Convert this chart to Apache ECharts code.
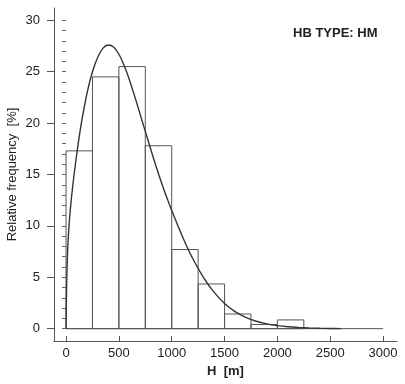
<!DOCTYPE html>
<html>
<head>
<meta charset="utf-8">
<script src="https://cdn.jsdelivr.net/npm/echarts@6/dist/echarts.min.js"></script>
<style>
  html, body { margin: 0; padding: 0; background: #fff; }
  #chart { width: 405px; height: 384px; }
</style>
</head>
<body>
<div id="chart"></div>
<script>
// histogram bins (start of each 250 m class) and their relative frequency [%]
var binStarts = [0, 250, 500, 750, 1000, 1250, 1500, 1750, 2000];
var binWidth = 250;
var binFreq = [17.3, 24.5, 25.5, 17.8, 7.7, 4.35, 1.43, 0.4, 0.85];

// fitted curve
var curveH = [0, 5, 15, 30, 50, 75, 100, 125, 150, 200, 250, 300, 350, 400, 450, 500, 550, 600, 650, 700,
  750, 800, 850, 900, 950, 1000, 1100, 1200, 1300, 1400, 1500, 1600, 1700, 1800, 1900, 2000,
  2100, 2200, 2300, 2400, 2500, 2600];
var curveF = [0, 4, 7.6, 10.3, 12.6, 14.9, 16.9, 18.7, 20.3, 23.0, 25.0, 26.4, 27.3, 27.6, 27.4, 26.7, 25.6, 24.2, 22.6, 20.9,
  19.2, 17.5, 15.85, 14.3, 12.85, 11.5, 9.0, 6.8, 5.0, 3.55, 2.45, 1.65, 1.1, 0.72, 0.47, 0.3,
  0.19, 0.12, 0.07, 0.04, 0.02, 0];

// zero line drawn under the histogram
var baseH = [0, 3000];
var baseF = [0, 0];

var xTicks = [0, 500, 1000, 1500, 2000, 2500, 3000];
var yTicks = [0, 5, 10, 15, 20, 25, 30];
var yMinorTicks = [];
for (var i = 0; i <= 30; i++) yMinorTicks.push(i);

var font = "'Liberation Sans', Arial, sans-serif";
var ink = '#222';

var chart = echarts.init(document.getElementById('chart'));

var option = {
  backgroundColor: '#fff',
  animation: false,
  title: {
    text: 'HB TYPE: HM',
    left: 288,
    top: 22,
    textStyle: { fontFamily: font, fontSize: 13, fontWeight: 'bold', color: ink }
  },
  grid: { left: 54, right: 8, top: 8, bottom: 43, outerBoundsMode: 'none' },
  xAxis: {
    type: 'value',
    min: -114,
    max: 3132,
    name: 'H  [m]',
    nameLocation: 'middle',
    nameGap: 24,
    nameTextStyle: { fontFamily: font, fontSize: 13, color: ink, fontWeight: 'bold' },
    axisLine: { show: true, onZero: false, lineStyle: { color: '#555', width: 1 } },
    axisTick: { show: true, inside: true, length: 5, customValues: xTicks, lineStyle: { color: '#555' } },
    axisLabel: {
      customValues: xTicks, margin: 6, fontFamily: font, fontSize: 13, color: ink,
      formatter: function (v) { return String(v); }
    },
    splitLine: { show: false }
  },
  yAxis: [
    {
      type: 'value',
      min: -1.2,
      max: 31.2,
      name: 'Relative frequency  [%]',
      nameLocation: 'middle',
      nameRotate: 90,
      nameGap: 35,
      nameMoveOverlap: false,
      nameTextStyle: { fontFamily: font, fontSize: 13, color: ink },
      axisLine: { show: true, onZero: false, lineStyle: { color: '#555', width: 1 } },
      axisTick: { show: true, length: 7, customValues: yTicks, lineStyle: { color: '#555' } },
      axisLabel: { customValues: yTicks, margin: 14, fontFamily: font, fontSize: 13, color: ink },
      splitLine: { show: false }
    },
    {
      type: 'value',
      min: -1.2,
      max: 31.2,
      position: 'left',
      axisLine: { show: false },
      axisTick: { show: true, length: 4, customValues: yMinorTicks, lineStyle: { color: '#666' } },
      axisLabel: { show: false },
      splitLine: { show: false }
    }
  ],
  series: [
    {
      type: 'line',
      data: baseH.map(function (h, i) { return [h, baseF[i]]; }),
      symbol: 'none',
      lineStyle: { color: '#555', width: 1 },
      silent: true
    },
    {
      type: 'custom',
      data: binStarts.map(function (s, i) { return [s, s + binWidth, binFreq[i]]; }),
      renderItem: function (params, api) {
        var p0 = api.coord([api.value(0), 0]);
        var p1 = api.coord([api.value(1), api.value(2)]);
        return {
          type: 'rect',
          shape: { x: p0[0], y: p1[1], width: p1[0] - p0[0], height: p0[1] - p1[1] },
          style: { fill: 'none', stroke: '#555', lineWidth: 1 }
        };
      },
      silent: true
    },
    {
      type: 'line',
      data: curveH.map(function (h, i) { return [h, curveF[i]]; }),
      symbol: 'none',
      smooth: 0.3,
      lineStyle: { color: '#333', width: 1.4 },
      silent: true
    }
  ]
};

chart.setOption(option);
</script>
</body>
</html>
